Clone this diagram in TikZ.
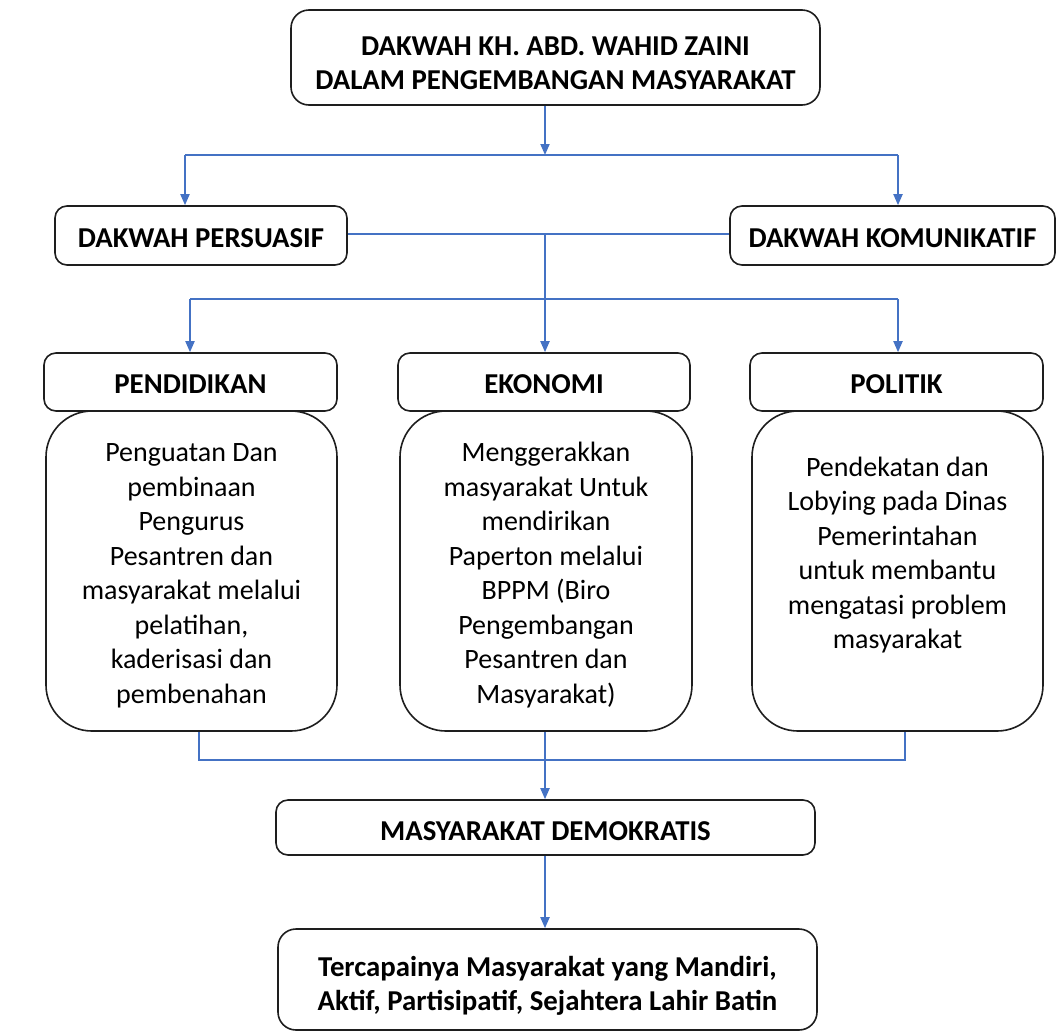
\documentclass[tikz,border=0pt]{standalone}
\usepackage{fontspec}
\setmainfont{Carlito}
\usetikzlibrary{arrows.meta}
\definecolor{linkblue}{RGB}{68,114,196}
\definecolor{edge}{RGB}{30,30,30}
\begin{document}
\begin{tikzpicture}[x=1pt,y=-1pt,
  box/.style={draw=edge, line width=1.6pt, fill=white, inner sep=0pt},
  hdr/.style={box, rounded corners=12pt},
  bodybox/.style={box, rounded corners=46pt},
  btxt/.style={font=\bfseries\fontsize{28.8}{34}\selectfont, align=center, inner sep=0pt},
  rtxt/.style={font=\fontsize{28}{34.5}\selectfont, align=center, inner sep=0pt},
  conn/.style={draw=linkblue, line width=1.8pt},
  arr/.style={conn, -{Triangle[length=11pt,width=9pt]}}]
\useasboundingbox (0,0) rectangle (1057,1034);

% top box
\node[box, rounded corners=18pt, minimum width=529pt, minimum height=95pt] (top) at (555.5,57.5) {};
\node[btxt] (toptxt) at (555.5,63.5) {DAKWAH KH. ABD. WAHID ZAINI\\DALAM PENGEMBANGAN MASYARAKAT};

% second row
\node[hdr, minimum width=292pt, minimum height=59pt] (per) at (201,235.5) {};
\node[btxt] (pertxt) at (201,238.5) {DAKWAH PERSUASIF};
\node[hdr, minimum width=325pt, minimum height=59pt] (kom) at (892.5,235.5) {};
\node[btxt] (komtxt) at (892.5,238.5) {DAKWAH KOMUNIKATIF};

% body boxes
\node[bodybox, minimum width=291pt, minimum height=320pt] (penb) at (191.5,571) {};
\node[bodybox, minimum width=292pt, minimum height=320pt] (ekob) at (546,571) {};
\node[bodybox, minimum width=291pt, minimum height=320pt] (polb) at (897.5,571) {};

% headers
\node[hdr, minimum width=293pt, minimum height=58pt] (pen) at (190.5,382) {};
\node[btxt] (pentxt) at (190.5,384.5) {PENDIDIKAN};
\node[hdr, minimum width=292pt, minimum height=58pt] (eko) at (544,382) {};
\node[btxt] (ekotxt) at (544,384.5) {EKONOMI};
\node[hdr, minimum width=293pt, minimum height=58pt] (pol) at (896.5,382) {};
\node[btxt] (poltxt) at (896.5,384.5) {POLITIK};

% body texts
\node[rtxt] (pentext) at (191.5,576) {Penguatan Dan\\pembinaan\\Pengurus\\Pesantren dan\\masyarakat melalui\\pelatihan,\\kaderisasi dan\\pembenahan};
\node[rtxt] (ekotext) at (546,575) {Menggerakkan\\masyarakat Untuk\\mendirikan\\Paperton melalui\\BPPM (Biro\\Pengembangan\\Pesantren dan\\Masyarakat)};
\node[rtxt] (poltext) at (897.5,555) {Pendekatan dan\\Lobying pada Dinas\\Pemerintahan\\untuk membantu\\mengatasi problem\\masyarakat};

% bottom boxes
\node[hdr, minimum width=539pt, minimum height=55pt] (dem) at (545.5,827.5) {};
\node[btxt] (demtxt) at (545.5,831) {MASYARAKAT DEMOKRATIS};
\node[box, rounded corners=18pt, minimum width=539pt, minimum height=101pt] (fin) at (547.5,979.5) {};
\node[btxt] (fintxt) at (547.5,985.5) {Tercapainya Masyarakat yang Mandiri,\\Aktif, Partisipatif, Sejahtera Lahir Batin};

% junction coordinates
\coordinate (j1) at (545,155);
\coordinate (jl) at (185,155);
\coordinate (jr) at (898,155);
\coordinate (j2) at (545,234);
\coordinate (jl2) at (190,299);
\coordinate (jr2) at (898,299);
\coordinate (jb1) at (199,760);
\coordinate (jb2) at (545,760);
\coordinate (jb3) at (905,760);

% connectors
\draw[arr] (top.south -| j1) -- (j1);
\draw[conn] (jl) -- (jr);
\draw[arr] (jl) -- (jl |- per.north);
\draw[arr] (jr) -- (jr |- kom.north);
\draw[conn] (per.east |- j2) -- (kom.west |- j2);
\draw[arr] (j2) -- (j2 |- eko.north);
\draw[conn] (jl2) -- (jr2);
\draw[arr] (jl2) -- (jl2 |- pen.north);
\draw[arr] (jr2) -- (jr2 |- pol.north);
\draw[conn] (jb1 |- penb.south) -- (jb1) -- (jb3) -- (jb3 |- polb.south);
\draw[arr] (ekob.south -| jb2) -- (jb2 |- dem.north);
\draw[arr] (dem.south -| jb2) -- (jb2 |- fin.north);
\end{tikzpicture}
\end{document}
